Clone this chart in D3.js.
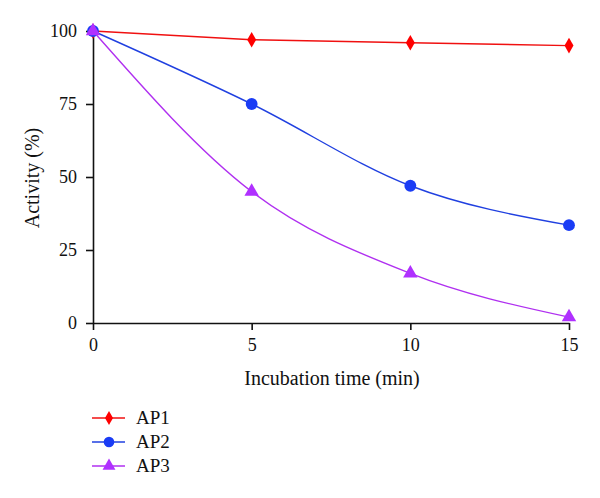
<!DOCTYPE html>
<html><head><meta charset="utf-8">
<script src="https://cdn.jsdelivr.net/npm/d3@7"></script>
<style>body{margin:0;background:#fff}svg{display:block}</style>
</head><body>
<script>
const times = [0, 5, 10, 15];
const ap1 = [100, 97, 96, 95];
const ap2 = [100, 75, 47, 33.5];
const ap3 = [100, 45, 17, 2];
const xTicks = [0, 5, 10, 15];
const yTicks = [0, 25, 50, 75, 100];
const seriesNames = ["AP1", "AP2", "AP3"];

const FONT = "'Times New Roman', 'Liberation Serif', Tinos, 'DejaVu Serif', serif";
const W = 600, H = 498;
const svg = d3.select("body").append("svg").attr("width", W).attr("height", H)
  .attr("font-family", FONT);
const x = d3.scaleLinear().domain([0, 15]).range([93, 569]);
const y = d3.scaleLinear().domain([0, 100]).range([323, 31]);

const series = [
  {name: seriesNames[0], vals: ap1, color: "#f01010", mcolor: "#ff0000", curve: d3.curveLinear, shape: d3.symbolDiamond, size: 70},
  {name: seriesNames[1], vals: ap2, color: "#2040e0", mcolor: "#1a3cf5", curve: d3.curveMonotoneX, shape: d3.symbolCircle, size: 110},
  {name: seriesNames[2], vals: ap3, color: "#b030f0", mcolor: "#b030ff", curve: d3.curveMonotoneX, shape: d3.symbolTriangle, size: 90}
];

// axes
const xa = svg.append("g").attr("transform", `translate(0,${y(0)})`)
  .call(d3.axisBottom(x).tickValues(xTicks).tickSize(7).tickPadding(8).tickSizeOuter(0));
const ya = svg.append("g").attr("transform", `translate(${x(0)},0)`)
  .call(d3.axisLeft(y).tickValues(yTicks).tickSize(7).tickPadding(9).tickSizeOuter(0));
[xa, ya].forEach(a => {
  a.attr("font-family", FONT).attr("font-size", 18);
  a.selectAll("path,line").attr("stroke", "#111").attr("stroke-width", 1.6);
  a.selectAll("text").attr("fill", "#111");
});

svg.append("text").attr("x", 332).attr("y", 385).attr("text-anchor", "middle")
  .attr("font-size", 20).attr("fill", "#111").text("Incubation time (min)");
svg.append("text").attr("transform", `translate(39,178) rotate(-90)`).attr("text-anchor", "middle")
  .attr("font-size", 20).attr("fill", "#111").text("Activity (%)");

series.forEach(s => {
  const pts = times.map((t, i) => [t, s.vals[i]]);
  svg.append("path").datum(pts)
    .attr("d", d3.line().x(d => x(d[0])).y(d => y(d[1])).curve(s.curve))
    .attr("fill", "none").attr("stroke", s.color).attr("stroke-width", 1.4);
  svg.selectAll(null).data(pts).enter().append("path")
    .attr("transform", d => `translate(${x(d[0])},${y(d[1])})`)
    .attr("d", d3.symbol().type(s.shape).size(s.size))
    .attr("fill", s.mcolor);
});

// legend
series.forEach((s, i) => {
  const ly = 418 + i * 24;
  svg.append("line").attr("x1", 92).attr("x2", 125).attr("y1", ly).attr("y2", ly)
    .attr("stroke", s.color).attr("stroke-width", 1.4);
  svg.append("path").attr("transform", `translate(109,${ly})`)
    .attr("d", d3.symbol().type(s.shape).size(s.size * 0.8)).attr("fill", s.mcolor);
  svg.append("text").attr("x", 136).attr("y", ly + 6).attr("font-size", 19).attr("fill", "#111").text(s.name);
});
</script>
</body></html>
